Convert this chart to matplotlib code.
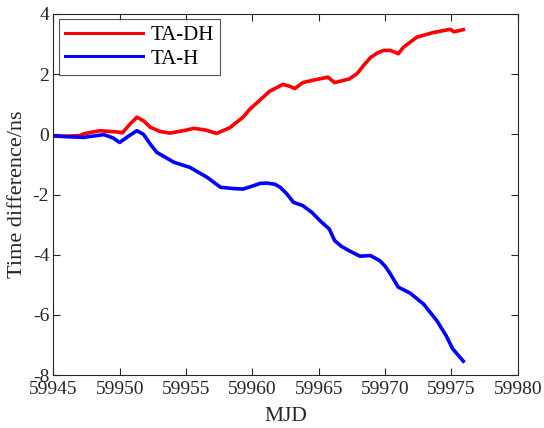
import matplotlib
matplotlib.use("Agg")
import matplotlib.pyplot as plt
import numpy as np

plt.rcParams['font.family'] = ['Liberation Serif', 'DejaVu Serif']
plt.rcParams['axes.unicode_minus'] = False

mjd_dh = [59945.0, 59946.0, 59947.0, 59947.3, 59948.5, 59949.8, 59950.2, 59950.8, 59951.3, 59951.8,
          59952.3, 59953.0, 59953.8, 59955.0, 59955.6, 59956.5, 59957.3, 59958.3, 59959.3, 59959.8,
          59960.8, 59961.3, 59962.3, 59962.8, 59963.2, 59963.8, 59964.8, 59965.7, 59966.2,
          59967.3, 59967.9, 59968.4, 59968.9, 59969.4, 59969.9, 59970.4, 59971.0, 59971.4,
          59972.4, 59973.6, 59974.9, 59975.2, 59975.9]
ta_dh = [-0.05, -0.06, -0.04, 0.02, 0.12, 0.08, 0.05, 0.35, 0.57, 0.45,
         0.24, 0.1, 0.04, 0.14, 0.2, 0.14, 0.03, 0.22, 0.57, 0.83,
         1.23, 1.43, 1.66, 1.6, 1.52, 1.72, 1.82, 1.9, 1.72,
         1.84, 2.02, 2.3, 2.55, 2.7, 2.79, 2.79, 2.68, 2.9,
         3.23, 3.38, 3.49, 3.41, 3.48]

mjd_h = [59945.0, 59946.0, 59947.3, 59948.8, 59949.5, 59950.0, 59950.7, 59951.3, 59951.8, 59952.3,
         59952.8, 59954.1, 59955.3, 59956.6, 59957.6, 59958.5, 59959.3, 59960.0, 59960.6, 59961.1,
         59961.7, 59962.1, 59962.6, 59963.1, 59963.8, 59964.5, 59965.1, 59965.8, 59966.2,
         59966.7, 59967.3, 59968.1, 59968.9, 59969.6, 59970.0, 59970.4, 59971.0, 59971.9,
         59972.9, 59973.9, 59974.6, 59975.1, 59975.9]
ta_h = [-0.05, -0.08, -0.1, -0.01, -0.12, -0.27, -0.05, 0.12, 0.0, -0.32,
        -0.6, -0.93, -1.1, -1.43, -1.76, -1.8, -1.82, -1.72, -1.63, -1.62,
        -1.66, -1.76, -1.98, -2.26, -2.37, -2.6, -2.87, -3.15, -3.53,
        -3.72, -3.87, -4.05, -4.03, -4.2, -4.38, -4.64, -5.08, -5.28,
        -5.64, -6.19, -6.69, -7.13, -7.54]

fig = plt.figure(figsize=(5.44, 4.28), dpi=100)
ax = fig.add_axes([0.098, 0.1238, 0.8537, 0.8435])
ax.plot(mjd_dh, ta_dh, color='#ff0000', lw=2.6, label='TA-DH')
ax.plot(mjd_h, ta_h, color='#0000ff', lw=2.6, label='TA-H')
ax.set_xlim(59945, 59980)
ax.set_ylim(-8, 4)
ax.set_xticks(np.arange(59945, 59981, 5))
ax.set_yticks(np.arange(-8, 5, 2))
ax.tick_params(direction='in', top=True, right=True, labelsize=14, length=5,
               color='#262626', labelcolor='#262626', pad=3)
ax.tick_params(axis='x', pad=4.5)
for s in ax.spines.values():
    s.set_color('#262626')
    s.set_linewidth(0.8)
ax.set_xlabel('MJD', fontsize=15.5, color='#262626', labelpad=6)
ax.set_ylabel('Time difference/ns', fontsize=16, color='#262626', labelpad=4)
leg = ax.legend(loc='upper left', fontsize=15, handlelength=3.75, frameon=True,
                fancybox=False, edgecolor='#262626', borderpad=0.3,
                labelspacing=0.2, borderaxespad=0.25, handletextpad=0.35)
leg.get_frame().set_linewidth(0.8)
for l in leg.get_lines():
    l.set_linewidth(2.2)
fig.savefig('out.png', dpi=100)
